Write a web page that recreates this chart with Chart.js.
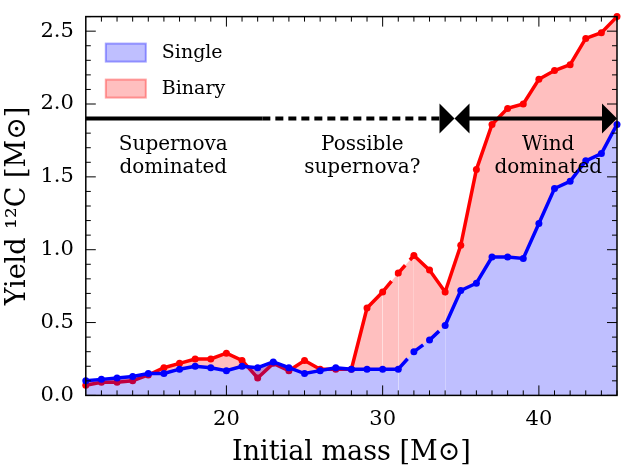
<!DOCTYPE html>
<html>
<head>
<meta charset="utf-8">
<script src="https://cdn.jsdelivr.net/npm/chart.js@4"></script>
<style>body{margin:0;background:#fff}</style>
</head>
<body>
<canvas id="c" width="623" height="469"></canvas>
<script>
document.addEventListener("DOMContentLoaded", function() {
    'use strict';

    var masses = [11,12,13,14,15,16,17,18,19,20,21,22,23,24,25,26,27,28,29,30,31,32,33,34,35,36,37,38,39,40,41,42,43,44,45];
    var single = [0.10,0.11,0.12,0.13,0.15,0.15,0.18,0.20,0.19,0.17,0.20,0.19,0.23,0.19,0.15,0.17,0.19,0.18,0.18,0.18,0.18,0.30,0.38,0.48,0.72,0.77,0.95,0.95,0.94,1.18,1.42,1.47,1.61,1.66,1.86];
    var binary = [0.07,0.09,0.09,0.10,0.14,0.19,0.22,0.25,0.25,0.29,0.24,0.12,0.22,0.17,0.24,0.18,0.18,0.18,0.60,0.71,0.84,0.96,0.86,0.71,1.03,1.55,1.86,1.97,2.00,2.17,2.23,2.27,2.45,2.49,2.60];
    var xTicks = [20, 30, 40];
    var yTicks = [0.0, 0.5, 1.0, 1.5, 2.0, 2.5];
    var regions = [
        {lines: ['Supernova', 'dominated'], x: 16.6},
        {lines: ['Possible', 'supernova?'], x: 28.7},
        {lines: ['Wind', 'dominated'], x: 40.6}
    ];
    var serif = '"DejaVu Serif", "Liberation Serif", serif';

    function dashed(from, to) {
        return function(ctx) {
            var i = ctx.p0DataIndex;
            return (masses[i] >= from && masses[i] < to) ? [14, 7] : undefined;
        };
    }

    var decor = {
        id: 'decor',
        afterDatasetsDraw: function(chart) {
            var c = chart.ctx, a = chart.chartArea;
            var xs = chart.scales.x, ys = chart.scales.y;
            c.save();
            // arrow line
            var yl = ys.getPixelForValue(1.9);
            c.strokeStyle = '#000'; c.lineWidth = 4;
            c.beginPath(); c.moveTo(a.left, yl); c.lineTo(xs.getPixelForValue(22.3), yl); c.stroke();
            c.setLineDash([8, 5]);
            c.beginPath(); c.moveTo(xs.getPixelForValue(22.3), yl); c.lineTo(xs.getPixelForValue(34), yl); c.stroke();
            c.setLineDash([]);
            c.beginPath(); c.moveTo(xs.getPixelForValue(35.2), yl); c.lineTo(a.right - 10, yl); c.stroke();
            var xm = xs.getPixelForValue(34.6);
            c.fillStyle = '#000';
            c.beginPath(); c.moveTo(xm, yl); c.lineTo(xm - 15, yl - 15); c.lineTo(xm - 15, yl + 15); c.fill();
            c.beginPath(); c.moveTo(xm, yl); c.lineTo(xm + 15, yl - 15); c.lineTo(xm + 15, yl + 15); c.fill();
            c.beginPath(); c.moveTo(a.right, yl); c.lineTo(a.right - 15, yl - 15); c.lineTo(a.right - 15, yl + 15); c.fill();
            // region text
            c.font = '20px ' + serif; c.textAlign = 'center'; c.textBaseline = 'middle';
            regions.forEach(function(r) {
                var px = xs.getPixelForValue(r.x);
                c.fillText(r.lines[0], px, ys.getPixelForValue(1.72));
                c.fillText(r.lines[1], px, ys.getPixelForValue(1.56));
            });
            // legend
            var items = [['Single', 'rgba(0,0,255,0.25)', 'rgba(0,0,255,0.35)'], ['Binary', 'rgba(255,0,0,0.25)', 'rgba(255,0,0,0.35)']];
            c.textAlign = 'left'; c.font = '19px ' + serif;
            items.forEach(function(it, i) {
                var ty = a.top + 36 + i * 36;
                c.fillStyle = it[1]; c.fillRect(a.left + 20, ty - 9, 40, 18);
                c.strokeStyle = it[2]; c.lineWidth = 2; c.strokeRect(a.left + 20, ty - 9, 40, 18);
                c.fillStyle = '#000'; c.fillText(it[0], a.left + 76, ty);
            });
            // frame and inward ticks
            c.strokeStyle = '#000'; c.lineWidth = 1.5;
            c.strokeRect(a.left, a.top, a.right - a.left, a.bottom - a.top);
            c.lineWidth = 1;
            for (var m = 12; m <= 45; m++) {
                var px2 = xs.getPixelForValue(m), len = (m % 10 === 0) ? 10 : 5;
                c.beginPath(); c.moveTo(px2, a.bottom); c.lineTo(px2, a.bottom - len);
                c.moveTo(px2, a.top); c.lineTo(px2, a.top + len); c.stroke();
            }
            for (var v = 0; v <= 26; v++) {
                var py = ys.getPixelForValue(v / 10), l2 = (v % 5 === 0) ? 10 : 5;
                c.beginPath(); c.moveTo(a.left, py); c.lineTo(a.left + l2, py);
                c.moveTo(a.right, py); c.lineTo(a.right - l2, py); c.stroke();
            }
            c.restore();
        }
    };

    new Chart(document.getElementById('c').getContext('2d'), {
        type: 'line',
        data: {
            datasets: [{
                label: 'Single',
                data: masses.map(function(m, i) { return {x: m, y: single[i]}; }),
                borderColor: '#0000ff',
                backgroundColor: 'rgba(0,0,255,0.25)',
                pointBackgroundColor: '#0000ff',
                borderWidth: 3.5,
                pointRadius: 3.5,
                pointBorderWidth: 0,
                fill: 'origin',
                segment: {borderDash: dashed(31, 34)}
            }, {
                label: 'Binary',
                data: masses.map(function(m, i) { return {x: m, y: binary[i]}; }),
                borderColor: '#ff0000',
                backgroundColor: 'rgba(255,0,0,0.25)',
                pointBackgroundColor: '#ff0000',
                borderWidth: 3.5,
                pointRadius: 3.5,
                pointBorderWidth: 0,
                fill: 0,
                segment: {borderDash: dashed(30, 32)}
            }]
        },
        options: {
            responsive: false,
            animation: false,
            clip: false,
            layout: {padding: {top: 6, right: 6}},
            plugins: {legend: {display: false}, tooltip: {enabled: false}},
            scales: {
                x: {
                    type: 'linear', min: 11, max: 45,
                    afterBuildTicks: function(s) { s.ticks = xTicks.map(function(v) { return {value: v}; }); },
                    grid: {display: false},
                    border: {display: false},
                    ticks: {color: '#000', font: {family: serif, size: 21}, padding: 4},
                    title: {display: true, text: 'Initial mass [M\u2299]', color: '#000', font: {family: serif, size: 27}, padding: 0}
                },
                y: {
                    min: 0, max: 2.6,
                    afterBuildTicks: function(s) { s.ticks = yTicks.map(function(v) { return {value: v}; }); },
                    grid: {display: false},
                    border: {display: false},
                    ticks: {color: '#000', font: {family: serif, size: 21}, padding: 4,
                        callback: function(v) { return v.toFixed(1); }},
                    title: {display: true, text: 'Yield \u00b9\u00b2C [M\u2299]', color: '#000', font: {family: serif, size: 27}, padding: 2}
                }
            }
        },
        plugins: [decor]
    });
});
</script>
</body>
</html>
